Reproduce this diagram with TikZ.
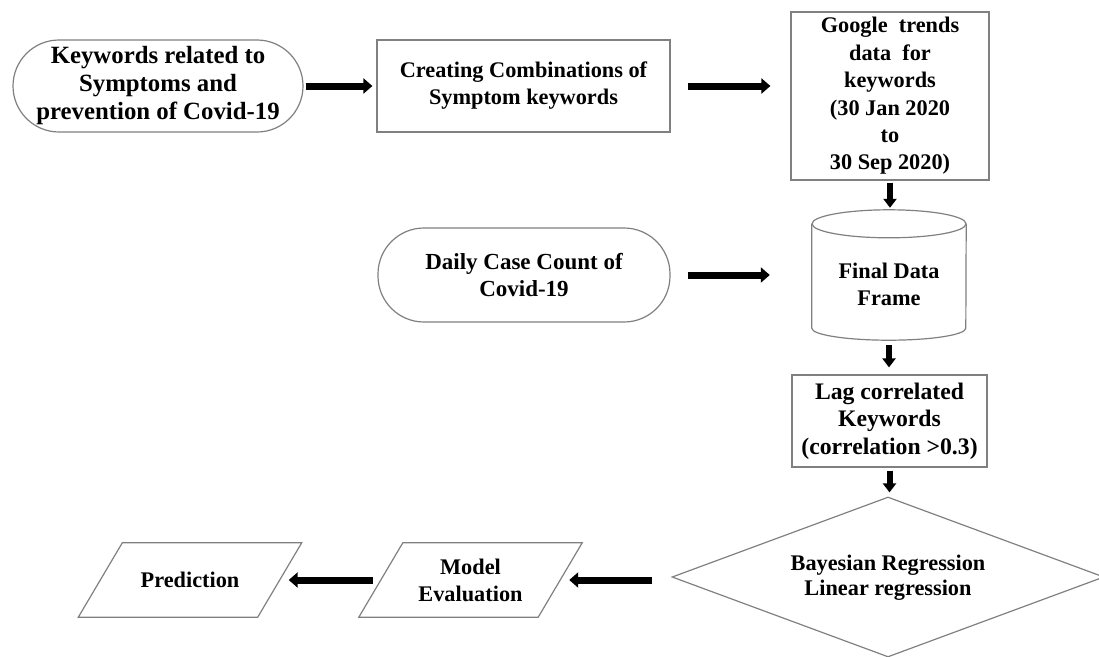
\documentclass[tikz,border=0pt]{standalone}
\usepackage{fontspec}
\setmainfont{Liberation Serif}
\usetikzlibrary{arrows.meta,shapes.geometric}
\begin{document}
\begin{tikzpicture}[x=1pt,y=-1pt,
  every node/.style={font=\bfseries\fontsize{22.3}{27}\selectfont, align=center, inner sep=0pt},
  box/.style={draw=black!50, line width=1.2pt, rectangle},
  stad/.style={draw=black!50, line width=1.2pt, rectangle, rounded corners=46pt},
  plain/.style={rectangle},
  arr/.style={line width=7pt, -{Triangle[length=9pt,width=15pt]}},
  varr/.style={line width=6pt, -{Triangle[length=9pt,width=13pt]}},
  shp/.style={draw=black!50, line width=1.2pt}
]
\useasboundingbox (0,0) rectangle (1099,656);

\node[stad, minimum width=290pt, minimum height=92pt, font=\bfseries\fontsize{24.8}{28}\selectfont] (kw) at (158,86) {Keywords related to\\Symptoms and\\prevention of Covid-19};
\node[box, minimum width=293pt, minimum height=92pt] (comb) at (523.5,86) {Creating Combinations of\\Symptom keywords};
\node[box, minimum width=198pt, minimum height=168pt, font=\bfseries\fontsize{22.3}{27.4}\selectfont] (gt) at (890,96) {Google\ \ trends\\data\ \ for\\keywords\\(30 Jan 2020\\to\\30 Sep 2020)};

\node[stad, minimum width=292pt, minimum height=94pt, font=\bfseries\fontsize{23}{27}\selectfont] (dcc) at (524,275) {Daily Case Count of\\Covid-19};
\node[plain, minimum width=154pt, minimum height=130pt] (fdf) at (889,275) {};
\node at (889,284) {Final Data\\Frame};
\draw[shp] ([yshift=-14pt]fdf.north) ellipse [x radius=77pt, y radius=14pt];
\draw[shp] ([yshift=-14pt]fdf.north west) -- ([yshift=12pt]fdf.south west)
  arc[start angle=180, end angle=360, x radius=77pt, y radius=12pt] -- ([yshift=-14pt]fdf.north east);

\node[box, minimum width=195pt, minimum height=92pt, font=\bfseries\fontsize{23.7}{27.5}\selectfont] (lag) at (889.5,421) {Lag correlated\\Keywords\\(correlation \textgreater0.3)};

\node[shape=diamond, draw=black!50, line width=1.2pt, minimum width=432pt, minimum height=160pt] (reg) at (888,577) {};
\node[font=\bfseries\fontsize{22.3}{25}\selectfont] at (888,578) {Bayesian Regression\\Linear regression};

\node[plain, minimum width=179pt, minimum height=74pt] (me) at (470.5,580) {Model\\Evaluation};
\draw[shp] ([xshift=22pt]me.north west) -- ([xshift=22pt]me.north east) -- ([xshift=-22pt]me.south east) -- ([xshift=-22pt]me.south west) -- cycle;
\node[plain, minimum width=179pt, minimum height=74pt] (pred) at (190,580) {Prediction};
\draw[shp] ([xshift=22pt]pred.north west) -- ([xshift=22pt]pred.north east) -- ([xshift=-22pt]pred.south east) -- ([xshift=-22pt]pred.south west) -- cycle;

\draw[arr, shorten <=2pt, shorten >=4pt] (kw.east) -- (kw.east -| comb.west);
\draw[arr, shorten <=17pt, shorten >=20pt] (comb.east) -- (comb.east -| gt.west);
\draw[arr, shorten <=17pt, shorten >=42pt] (dcc.east) -- (fdf.west);
\draw[varr, shorten <=2pt, shorten >=2pt] (gt.south) -- (gt.south |- fdf.north);
\draw[varr, shorten <=5pt, shorten >=7pt] (fdf.south) -- (fdf.south |- lag.north);
\draw[varr, shorten <=3pt, shorten >=4pt] (lag.south) -- (lag.south |- reg.north);
\draw[arr, shorten <=19pt, shorten >=9pt] (reg.west |- me.east) -- (me.east);
\draw[arr, shorten <=8pt, shorten >=9pt] (me.west) -- (pred.east);
\end{tikzpicture}
\end{document}
